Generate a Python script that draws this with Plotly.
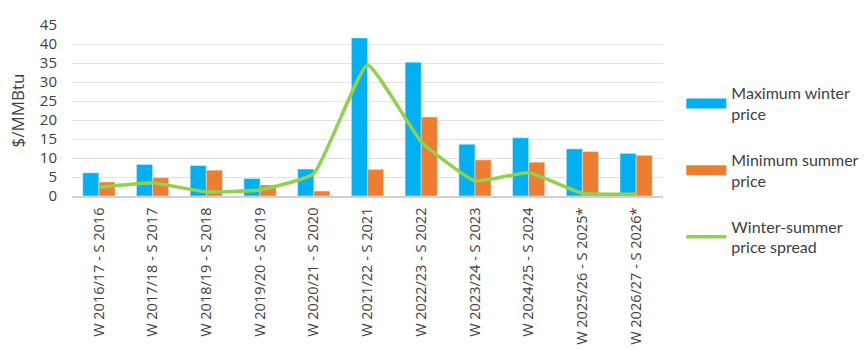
import plotly.graph_objects as go

categories = ["W 2016/17 - S 2016", "W 2017/18 - S 2017", "W 2018/19 - S 2018",
              "W 2019/20 - S 2019", "W 2020/21 - S 2020", "W 2021/22 - S 2021",
              "W 2022/23 - S 2022", "W 2023/24 - S 2023", "W 2024/25 - S 2024",
              "W 2025/26 - S 2025*", "W 2026/27 - S 2026*"]
max_winter = [6.1, 8.3, 8.0, 4.6, 7.1, 41.6, 35.2, 13.6, 15.3, 12.4, 11.2]
min_summer = [3.7, 4.8, 6.8, 2.9, 1.3, 7.0, 20.8, 9.5, 8.9, 11.7, 10.7]
spread = [2.3, 3.4, 1.1, 1.6, 5.9, 34.5, 14.3, 4.0, 6.1, 0.7, 0.5]

BLUE = "#00B0F0"
ORANGE = "#ED7D31"
GREEN = "#92D050"
FONT = "Open Sans"

fig = go.Figure()
fig.add_trace(go.Bar(x=categories, y=max_winter, marker_color=BLUE, showlegend=False,
                     name="Maximum winter price"))
fig.add_trace(go.Bar(x=categories, y=min_summer, marker_color=ORANGE, showlegend=False,
                     name="Minimum summer price"))
fig.add_trace(go.Scatter(x=categories, y=spread, mode="lines",
                         line=dict(color=GREEN, width=3.5, shape="spline", smoothing=0.4),
                         showlegend=False, name="Winter-summer price spread"))
# legend entries
fig.add_trace(go.Scatter(x=[None], y=[None], mode="lines", line=dict(color=BLUE, width=10),
                         name="Maximum winter<br>price", legendgroup="a"))
fig.add_trace(go.Scatter(x=[None], y=[None], mode="lines", line=dict(color=ORANGE, width=10),
                         name="Minimum summer<br>price", legendgroup="b"))
fig.add_trace(go.Scatter(x=[None], y=[None], mode="lines", line=dict(color=GREEN, width=3.5),
                         name="Winter-summer<br>price spread", legendgroup="c"))

fig.update_layout(
    width=866, height=350,
    margin=dict(l=72, r=203, t=25, b=154, autoexpand=False),
    paper_bgcolor="white", plot_bgcolor="white",
    font=dict(family=FONT, color="#404040"),
    barmode="group", bargap=0.4, bargroupgap=0,
    legend=dict(x=1.031, y=0.70, xanchor="left", yanchor="top",
                font=dict(size=16, family="Lato", color="#404040"),
                tracegroupgap=22, itemwidth=40, bgcolor="rgba(0,0,0,0)",
                maxheight=320),
    xaxis=dict(tickangle=-90, tickfont=dict(size=14.5, color="#404040"),
               showgrid=False, showline=True, linecolor="#d0d0d0", linewidth=1.5,
               ticks="", ticklabelstandoff=4, automargin=False),
    yaxis=dict(range=[0, 45], dtick=5, tickfont=dict(size=15, color="#404040"),
               showgrid=True, gridcolor="#e3e3e3", gridwidth=1.3, zeroline=False,
               ticklabelstandoff=14, automargin=False,
               title=dict(text="$/MMBtu", font=dict(size=17, color="#404040"), standoff=10),
               ticks=""),
)

fig.write_html("out.html")
